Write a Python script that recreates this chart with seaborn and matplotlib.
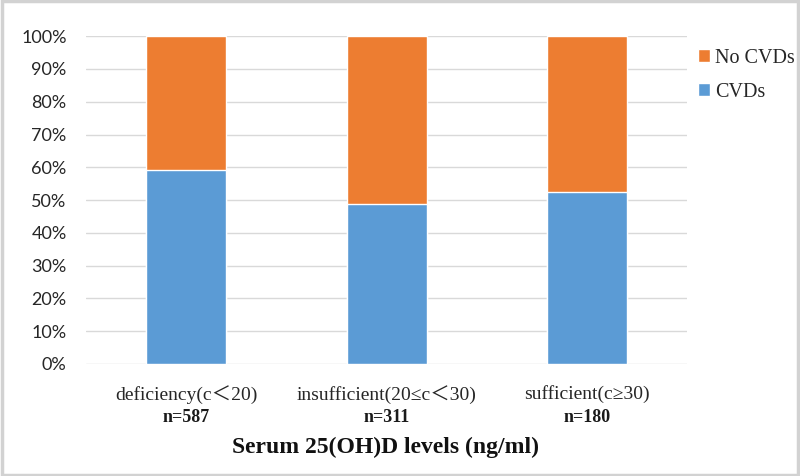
import numpy as np
import pandas as pd
import seaborn as sns
import matplotlib.pyplot as plt
import matplotlib.transforms as mtransforms
from matplotlib.patches import Rectangle, Patch

# data
categories = ["deficiency(c\uff1c20)", "insufficient(20\u2264c\uff1c30)", "sufficient(c\u226530)"]
n_labels = ["n=587", "n=311", "n=180"]
cvd_pct = [59.2, 48.7, 52.4]
total_pct = [100, 100, 100]

BLUE = "#5B9BD5"
ORANGE = "#ED7D31"
SERIF = ["Liberation Serif", "Noto Sans CJK SC", "DejaVu Sans"]

sns.set_theme(style="white")
plt.rcParams['font.family'] = ["Lato", "DejaVu Sans"]

df = pd.DataFrame({"cat": categories, "cvd": cvd_pct, "total": total_pct})

fig = plt.figure(figsize=(8, 4.76), dpi=100)
ax = fig.add_axes([0.1075, 0.2353, 0.7515, 0.6887])

# orange full bar first, blue share drawn over it
sns.barplot(data=df, x="cat", y="total", color=ORANGE, width=0.4, saturation=1, ax=ax, zorder=2)
sns.barplot(data=df, x="cat", y="cvd", color=BLUE, width=0.4, saturation=1, ax=ax, zorder=3)

ax.set_ylim(0, 100)
ax.set_xlim(-0.5, 2.5)
ax.set_yticks(np.arange(0, 101, 10))
ax.set_yticklabels(["{}%".format(v) for v in range(0, 101, 10)], fontsize=13, color="#262626")
ax.yaxis.grid(True, color="#D9D9D9", linewidth=1, zorder=0)
ax.set_axisbelow(True)
for s in ax.spines.values():
    s.set_visible(False)
ax.tick_params(axis="both", length=0)
ax.tick_params(axis="y", pad=14)

ax.set_xticks(range(len(categories)))
ax.set_xticklabels(categories, family=SERIF, fontsize=14, color="#262626")
ax.tick_params(axis="x", pad=15)
ax.set_ylabel("")
ax.set_xlabel("")

# sample sizes under each category
trans = mtransforms.blended_transform_factory(ax.transData, fig.transFigure)
for i, lab in enumerate(n_labels):
    ax.text(i, 1 - 418 / 476, lab, transform=trans, ha="center", va="center",
            family=SERIF, fontsize=13, fontweight="bold", color="#1a1a1a")

fig.text(0.4825, 1 - 447 / 476, "Serum 25(OH)D levels (ng/ml)", ha="center", va="center",
         family=SERIF, fontsize=17, fontweight="bold", color="#111111")

handles = [Patch(facecolor=ORANGE, label="No CVDs"), Patch(facecolor=BLUE, label="CVDs")]
fig.legend(handles=handles, loc="upper left", bbox_to_anchor=(0.862, 0.915), frameon=False,
           prop={"family": SERIF, "size": 14.5}, handlelength=0.6, handleheight=0.6,
           handletextpad=0.25, labelspacing=0.75, borderaxespad=0)

# light frame around the whole image
fig.patches.append(Rectangle((0.002, 0.003), 0.996, 0.994, transform=fig.transFigure,
                             fill=False, edgecolor="#D2D2D2", linewidth=2.5))

fig.savefig("out.png", dpi=100)
